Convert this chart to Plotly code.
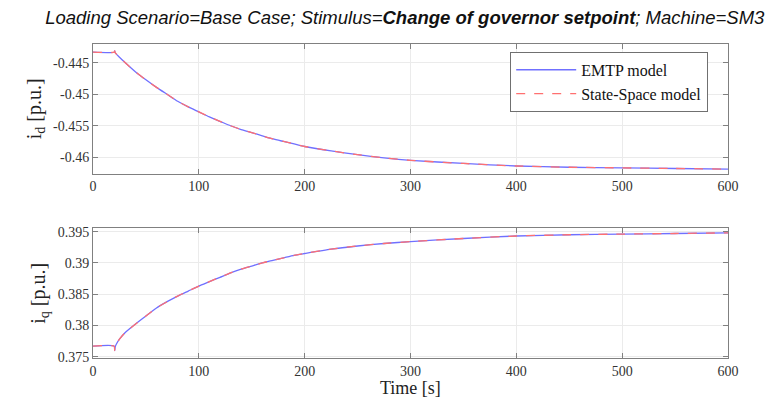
import plotly.graph_objects as go
from plotly.subplots import make_subplots

# time samples [s]
t_id = [0, 20, 20.5, 21, 25, 30, 40, 50, 60, 70, 80, 90, 100, 110, 120, 130, 140, 150, 160,
        170, 180, 190, 200, 225, 250, 275, 300, 350, 400, 450, 500, 550, 600]
id_emtp = [-0.4433, -0.4433, -0.4431, -0.4434, -0.4441, -0.4449, -0.4464, -0.4477, -0.4489,
           -0.4500, -0.4511, -0.4520, -0.4528, -0.4536, -0.4543, -0.4550, -0.4556, -0.4561,
           -0.4566, -0.4571, -0.4575, -0.4579, -0.4583, -0.4590, -0.4596, -0.4601, -0.4605,
           -0.4610, -0.4614, -0.4616, -0.4617, -0.4618, -0.4619]
id_ss = id_emtp

t_iq = [0, 20, 20.5, 21, 22, 25, 30, 40, 50, 60, 70, 80, 90, 100, 110, 120, 130, 140, 150,
        160, 170, 180, 190, 200, 225, 250, 275, 300, 350, 400, 450, 500, 550, 600]
iq_emtp = [0.3767, 0.3767, 0.3760, 0.3766, 0.3770, 0.3778, 0.3788, 0.3802, 0.3815, 0.3828,
           0.3838, 0.3847, 0.3855, 0.3863, 0.3870, 0.3877, 0.3884, 0.3890, 0.3895, 0.3900,
           0.3904, 0.3908, 0.3912, 0.3915, 0.3922, 0.3927, 0.3931, 0.3934, 0.3939, 0.3943,
           0.3945, 0.3946, 0.3947, 0.3948]
iq_ss = iq_emtp

x_ticks = [0, 100, 200, 300, 400, 500, 600]
id_ticks = [-0.445, -0.45, -0.455, -0.46]
id_labels = ["-0.445", "-0.45", "-0.455", "-0.46"]
iq_ticks = [0.375, 0.38, 0.385, 0.39, 0.395]
iq_labels = ["0.375", "0.38", "0.385", "0.39", "0.395"]

BLUE = "#7070ff"
RED = "#ff7070"
SERIF = "Liberation Serif, Times New Roman, serif"

fig = make_subplots(rows=2, cols=1, vertical_spacing=0.175)

line_kw = dict(width=1.3, shape="spline", smoothing=0.6)
fig.add_trace(go.Scatter(x=t_id, y=id_emtp, mode="lines", name="EMTP model",
                         line=dict(color=BLUE, **line_kw)), row=1, col=1)
fig.add_trace(go.Scatter(x=t_id, y=id_ss, mode="lines", name="State-Space model",
                         line=dict(color=RED, dash="dash", **line_kw)), row=1, col=1)
fig.add_trace(go.Scatter(x=t_iq, y=iq_emtp, mode="lines", showlegend=False,
                         line=dict(color=BLUE, **line_kw)), row=2, col=1)
fig.add_trace(go.Scatter(x=t_iq, y=iq_ss, mode="lines", showlegend=False,
                         line=dict(color=RED, dash="dash", **line_kw)), row=2, col=1)

axis_common = dict(showline=True, linecolor="#808080", linewidth=1, mirror="ticks",
                   ticks="inside", ticklen=5, tickcolor="#808080", automargin=False,
                   showgrid=True, gridcolor="#ebebeb", gridwidth=1, zeroline=False,
                   tickfont=dict(family=SERIF, size=14, color="#333333"))

fig.update_xaxes(**axis_common, range=[0, 600], tickvals=x_ticks)
fig.update_yaxes(**axis_common)
fig.update_yaxes(range=[-0.4626, -0.4420], tickvals=id_ticks, ticktext=id_labels,
                 title=dict(text="i<sub>d</sub> [p.u.]",
                            font=dict(family=SERIF, size=20, color="#222222"), standoff=6),
                 row=1, col=1)
fig.update_yaxes(range=[0.3748, 0.3955], tickvals=iq_ticks, ticktext=iq_labels,
                 title=dict(text="i<sub>q</sub> [p.u.]",
                            font=dict(family=SERIF, size=20, color="#222222"), standoff=6),
                 row=2, col=1)

fig.add_annotation(text="Time [s]", xref="paper", yref="paper", x=0.5, y=-0.097,
                   xanchor="center", yanchor="middle", showarrow=False,
                   font=dict(family=SERIF, size=18, color="#222222"))

fig.update_layout(
    width=775, height=390,
    margin=dict(l=85, r=55, t=36, b=40),
    paper_bgcolor="white", plot_bgcolor="white",
    title=dict(text="<i>Loading Scenario=Base Case; Stimulus=<b>Change of governor setpoint</b>; Machine=SM3</i>",
               xref="container", x=0.512, xanchor="center",
               yref="container", y=0.975, yanchor="middle",
               font=dict(family="Liberation Sans, Arial", size=18.5, color="#111111")),
    legend=dict(x=0.657, y=0.975, xanchor="left", yanchor="top",
                bgcolor="white", bordercolor="#707070", borderwidth=1,
                font=dict(family=SERIF, size=16, color="#111111"),
                itemwidth=60, tracegroupgap=0),
    showlegend=True,
)

fig.write_html("out.html")
